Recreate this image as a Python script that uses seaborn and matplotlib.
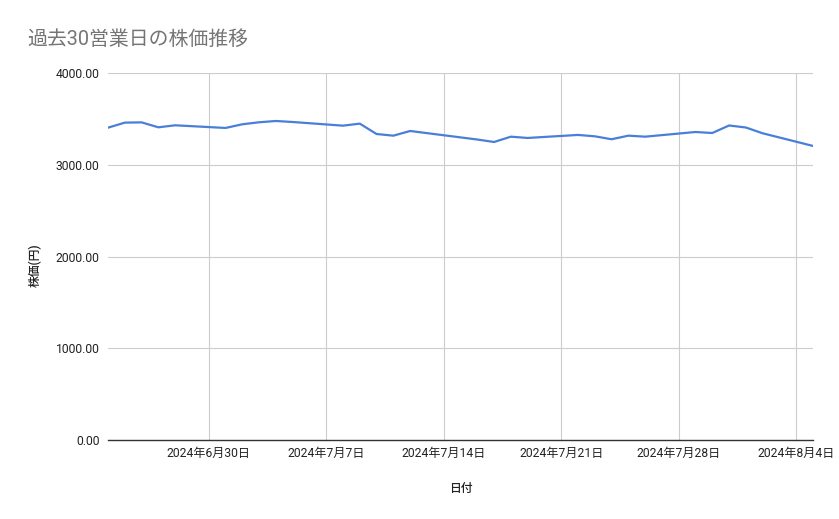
import matplotlib
matplotlib.use("Agg")
import matplotlib.pyplot as plt
import matplotlib.dates as mdates
from matplotlib.ticker import FuncFormatter, MultipleLocator
import pandas as pd
import seaborn as sns

dates = [
    "2024-06-24", "2024-06-25", "2024-06-26", "2024-06-27", "2024-06-28",
    "2024-07-01", "2024-07-02", "2024-07-03", "2024-07-04", "2024-07-05",
    "2024-07-08", "2024-07-09", "2024-07-10", "2024-07-11", "2024-07-12",
    "2024-07-16", "2024-07-17", "2024-07-18", "2024-07-19",
    "2024-07-22", "2024-07-23", "2024-07-24", "2024-07-25", "2024-07-26",
    "2024-07-29", "2024-07-30", "2024-07-31", "2024-08-01", "2024-08-02",
    "2024-08-05",
]
prices = [
    3404, 3459, 3462, 3408, 3430,
    3401, 3441, 3463, 3477, 3466,
    3426, 3448, 3335, 3317, 3368,
    3275, 3248, 3306, 3292,
    3325, 3310, 3278, 3317, 3306,
    3357, 3346, 3428, 3406, 3343,
    3205,
]

TITLE = "過去30営業日の株価推移"
XLABEL = "日付"
YLABEL = "株価(円)"

LINE = "#4a7fd9"
GRID = "#cccccc"
TEXT = "#222222"

sns.set_theme(style="white")
plt.rcParams["font.family"] = ["Roboto", "Noto Sans CJK JP", "DejaVu Sans"]

df = pd.DataFrame({"date": pd.to_datetime(dates), "price": prices})

fig = plt.figure(figsize=(8.39, 5.19), dpi=100)
ax = fig.add_axes([108 / 839, 1 - 440 / 519, 705 / 839, 367 / 519])

sns.lineplot(data=df, x="date", y="price", color=LINE, linewidth=1.6, ax=ax)

ax.set_xlim(df["date"].min(), df["date"].max())
ax.set_ylim(0, 4000)
ax.yaxis.set_major_locator(MultipleLocator(1000))
ax.yaxis.set_major_formatter(FuncFormatter(lambda v, p: f"{v:.2f}"))
ax.xaxis.set_major_locator(mdates.WeekdayLocator(byweekday=mdates.SU))
ax.xaxis.set_major_formatter(FuncFormatter(
    lambda v, p: (lambda d: f"{d.year}年{d.month}月{d.day}日")(mdates.num2date(v))))

ax.grid(True, color=GRID, linewidth=0.8)
ax.set_axisbelow(True)
for side in ["top", "right", "left"]:
    ax.spines[side].set_visible(False)
ax.spines["bottom"].set_color("#333333")
ax.spines["bottom"].set_linewidth(1.0)
ax.tick_params(axis="both", length=0, labelsize=8.7, colors=TEXT)
ax.tick_params(axis="x", pad=5)
ax.tick_params(axis="y", pad=6)

ax.set_xlabel(XLABEL, fontsize=8.5, color=TEXT, fontweight="medium")
ax.xaxis.set_label_coords(0.5, -0.115)
ax.set_ylabel(YLABEL, fontsize=8.5, color=TEXT, fontweight="medium")
ax.yaxis.set_label_coords(-0.094, 0.477)

fig.text(27 / 839, 1 - 39 / 519, TITLE, fontsize=14.3, color="#757575", va="center", ha="left")

fig.savefig("out.png", dpi=100, facecolor="white")
